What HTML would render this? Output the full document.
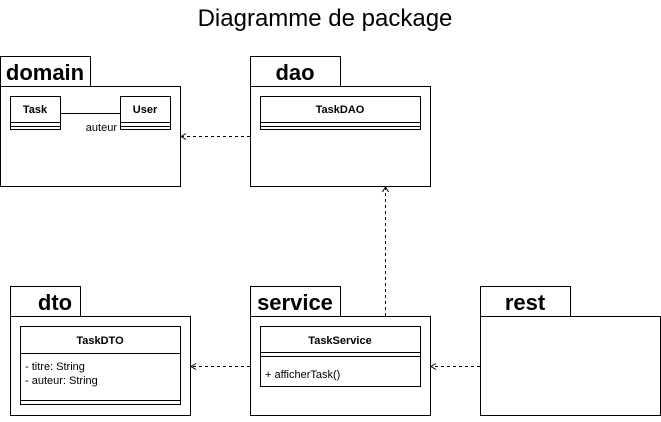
<!DOCTYPE html>
<html><head><style>body{margin:0;background:#fff}</style></head><body>
<svg width="661" height="417" xmlns="http://www.w3.org/2000/svg" font-family="Liberation Sans, Arial, sans-serif">
<rect width="661" height="417" fill="#fff"/>
<text x="325" y="26" font-size="24" text-anchor="middle">Diagramme de package</text>
<g fill="#fff" stroke="#000" stroke-width="1">
<rect x="0.5" y="56.5" width="90" height="30"/><rect x="0.5" y="86.5" width="180" height="100"/>
<rect x="250.5" y="56.5" width="90" height="30"/><rect x="250.5" y="86.5" width="180" height="100"/>
<rect x="10.5" y="286.5" width="70" height="30"/><rect x="10.5" y="316.5" width="180" height="99"/>
<rect x="250.5" y="286.5" width="90" height="30"/><rect x="250.5" y="316.5" width="180" height="99"/>
<rect x="480.5" y="286.5" width="90" height="30"/><rect x="480.5" y="316.5" width="180" height="99"/>
<rect x="10.5" y="96.5" width="50" height="33"/><line x1="10" y1="122.5" x2="61" y2="122.5"/><line x1="10" y1="126.5" x2="61" y2="126.5"/>
<rect x="120.5" y="96.5" width="50" height="33"/><line x1="120" y1="122.5" x2="171" y2="122.5"/><line x1="120" y1="126.5" x2="171" y2="126.5"/>
<rect x="260.5" y="96.5" width="160" height="33"/><line x1="260" y1="122.5" x2="421" y2="122.5"/><line x1="260" y1="126.5" x2="421" y2="126.5"/>
<rect x="20.5" y="326.5" width="160" height="78"/><line x1="20" y1="353.5" x2="181" y2="353.5"/><line x1="20" y1="400.5" x2="181" y2="400.5"/>
<rect x="260.5" y="326.5" width="160" height="60"/><line x1="260" y1="352.5" x2="421" y2="352.5"/><line x1="260" y1="356.5" x2="421" y2="356.5"/>
</g>
<line x1="60" y1="113.5" x2="120" y2="113.5" stroke="#000"/>
<g stroke="#000" fill="none" stroke-dasharray="3,3">
<line x1="250" y1="136.5" x2="182" y2="136.5"/>
<line x1="385.5" y1="316" x2="385.5" y2="188"/>
<line x1="250" y1="366.5" x2="192" y2="366.5"/>
<line x1="480" y1="366.5" x2="432" y2="366.5"/>
</g>
<g stroke="#000" fill="none">
<path d="M186 133.5 L181 136.5 L186 139.5"/>
<path d="M382.5 192 L385.5 187 L388.5 192"/>
<path d="M196 363.5 L191 366.5 L196 369.5"/>
<path d="M436 363.5 L431 366.5 L436 369.5"/>
</g>
<g font-weight="bold" font-size="22">
<text x="45" y="80" text-anchor="middle">domain</text>
<text x="295" y="80" text-anchor="middle">dao</text>
<text x="55" y="310" text-anchor="middle">dto</text>
<text x="295" y="310" text-anchor="middle">service</text>
<text x="525" y="310" text-anchor="middle">rest</text>
</g>
<g font-size="11">
<text x="35" y="113" text-anchor="middle" font-weight="bold">Task</text>
<text x="145" y="113" text-anchor="middle" font-weight="bold">User</text>
<text x="117" y="131" text-anchor="end">auteur</text>
<text x="340" y="113" text-anchor="middle" font-weight="bold">TaskDAO</text>
<text x="100" y="344" text-anchor="middle" font-weight="bold">TaskDTO</text>
<text x="25" y="370">- titre: String</text>
<text x="25" y="384">- auteur: String</text>
<text x="340" y="344" text-anchor="middle" font-weight="bold">TaskService</text>
<text x="265" y="378">+ afficherTask()</text>
</g>
</svg>
</body></html>
